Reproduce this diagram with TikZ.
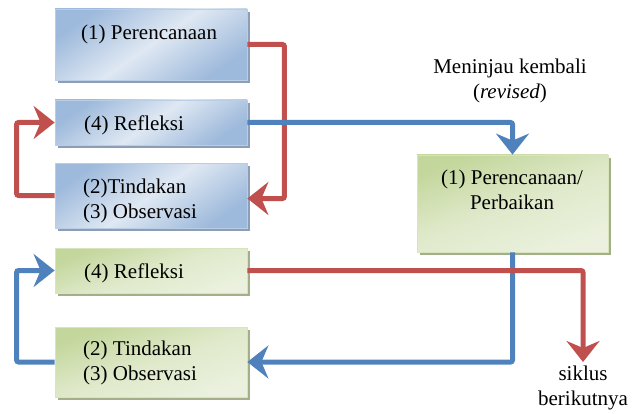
\documentclass[tikz,border=0pt]{standalone}
\usepackage{fontspec}
\setmainfont{Liberation Serif}
\newfontfamily\tnr{Liberation Serif}
\newcommand\txtfont{\tnr\fontsize{21}{25}\selectfont}
\usetikzlibrary{arrows.meta,calc,backgrounds}
\definecolor{redc}{HTML}{C0504D}
\definecolor{bluec}{HTML}{4F81BD}
\definecolor{bdark}{HTML}{9DB9DB}
\definecolor{blight}{HTML}{DFE8F3}
\definecolor{bedge}{HTML}{B9CDE5}
\definecolor{bshadow}{HTML}{8C9DB6}
\definecolor{gdark}{HTML}{C3D69B}
\definecolor{glight}{HTML}{EBF1DE}
\definecolor{gedge}{HTML}{D7E4BD}
\definecolor{gshadow}{HTML}{A3AF88}
\begin{document}
\begin{tikzpicture}[x=1pt,y=-1pt,
  boxbase/.style={inner sep=0pt,minimum width=192pt,line width=0.8pt},
  bluebox/.style={boxbase,draw=bedge,left color=bdark,right color=bdark,middle color=blight,shading angle=35},
  greenbox/.style={boxbase,draw=gedge,left color=gdark,right color=glight,middle color=glight!70!gdark,shading angle=20},
  lbl/.style={inner sep=0pt,anchor=west,align=left,font=\txtfont},
  clbl/.style={inner sep=0pt,align=center,font=\txtfont},
  conn/.style={line width=5pt,rounded corners=2pt},
  redarrow/.style={conn,draw=redc,-{Stealth[length=21pt,width=33pt,inset=7pt]}},
  bluearrow/.style={conn,draw=bluec,-{Stealth[length=21pt,width=33pt,inset=7pt]}}]
\useasboundingbox (0,0) rectangle (636,414);
% blue boxes
\node[bluebox,minimum height=71pt] (b1) at (151,44.5) {};
\node[bluebox,minimum height=45pt] (b2) at (151,122.5) {};
\node[bluebox,minimum height=65pt] (b3) at (151,195.5) {};
% green boxes
\node[greenbox,minimum height=45pt] (g1) at (151,270.5) {};
\node[greenbox,minimum height=70pt] (g2) at (151,362) {};
\node[greenbox,minimum width=191pt,minimum height=97pt] (rb) at (512.5,203.5) {};
% shadows
\begin{scope}[on background layer]
\foreach \n in {b1,b2,b3}
  \fill[bshadow] ($(\n.south west)+(3,3)$) rectangle ($(\n.north east)+(3,3)$);
\foreach \n in {g1,g2,rb}
  \fill[gshadow] ($(\n.south west)+(3,3)$) rectangle ($(\n.north east)+(3,3)$);
\end{scope}
% labels
\node[lbl] (t1) at (81,34) {(1) Perencanaan};
\node[lbl] (t2) at (84,125) {(4) Refleksi};
\node[lbl] (t3) at (83,200.5) {(2)Tindakan\\(3) Observasi};
\node[lbl] (t4) at (84,273) {(4) Refleksi};
\node[lbl] (t5) at (83,362.5) {(2) Tindakan\\(3) Observasi};
\node[clbl] (t6) at (512,190) {(1) Perencanaan/\\Perbaikan};
\node[clbl] (mk) at (510,80.5) {Meninjau kembali\\(\textit{revised})};
\node[clbl] (sk) at (583,388) {siklus\\berikutnya};
\coordinate (skt) at (583,362);
% connectors
\draw[redarrow] (b1.east) -| ($(b3.east)+(37,3)$) -- ($(b3.east)+(0,3)$);
\draw[redarrow] (b3.west) -- ++(-38,0) |- (b2.west);
\draw[bluearrow] (b2.east) -| (rb.north);
\draw[bluearrow] (rb.south) |- (g2.east);
\draw[bluearrow] (g2.west) -- ++(-38,0) |- (g1.west);
\draw[redarrow] (g1.east) -| (skt);
\end{tikzpicture}
\end{document}
